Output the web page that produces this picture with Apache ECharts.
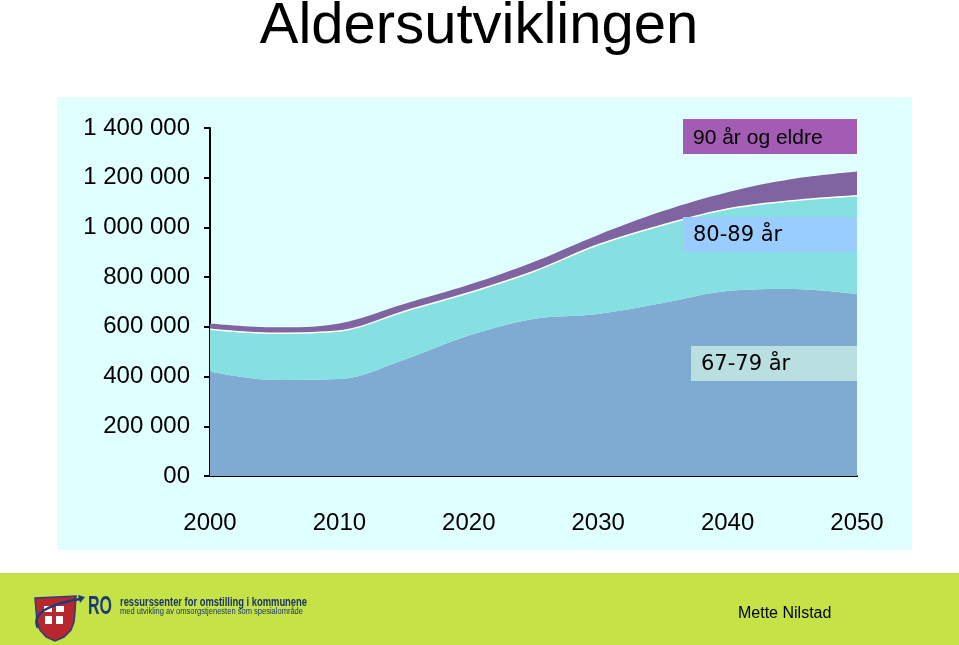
<!DOCTYPE html>
<html>
<head>
<meta charset="utf-8">
<script src="https://cdn.jsdelivr.net/npm/echarts@6/dist/echarts.min.js"></script>
<style>
html,body{margin:0;padding:0;background:#ffffff;}
#chart{width:959px;height:645px;}
</style>
</head>
<body>
<div id="chart"></div>
<script>
// ---- data ----
const years = ['2000', '2005', '2010', '2015', '2020', '2025', '2030', '2035', '2040', '2045', '2050'];
const age67to79 = [420000, 386000, 390000, 468000, 565000, 632000, 652000, 696000, 744000, 752000, 732000];
const age80to89 = [170000, 188000, 193000, 194000, 172000, 191000, 278000, 314000, 330000, 355000, 395000];
const age90plus = [24000, 24000, 31000, 30000, 32000, 38000, 40000, 56000, 68000, 88000, 98000];
const seriesNames = ['67-79 år', '80-89 år', '90 år og eldre'];
const yTickLabels = ['00', '200 000', '400 000', '600 000', '800 000', '1 000 000', '1 200 000', '1 400 000'];
const titleText = 'Aldersutviklingen';
const authorText = 'Mette Nilstad';
const logoLine1 = 'ressurssenter for omstilling i kommunene';
const logoLine2 = 'med utvikling av omsorgstjenesten som spesialområde';

const FONT = '"Liberation Sans", Arial, sans-serif';
const FONT_V = '"DejaVu Sans", Verdana, sans-serif';

const ctx = document.createElement('canvas').getContext('2d');
function fitScale(text, font, width) {
  ctx.font = font;
  const w = ctx.measureText(text).width;
  return w > 0 ? width / w : 1;
}

const chart = echarts.init(document.getElementById('chart'), null, {renderer: 'canvas'});

const fRO = 'bold 26px "Liberation Sans", Arial, sans-serif';
const fL1 = 'bold 12px "Liberation Sans", Arial, sans-serif';
const fL2 = '9px "Liberation Sans", Arial, sans-serif';
const s1 = fitScale('RO', fRO, 24);
const s2 = fitScale(logoLine1, fL1, 187);
const s3 = fitScale(logoLine2, fL2, 183);

const option = {
  backgroundColor: '#ffffff',
  animation: false,
  grid: {left: 210, right: 102, top: 128, bottom: 169, containLabel: false},
  xAxis: {
    type: 'category', data: years, boundaryGap: false,
    axisLine: {show: true, lineStyle: {color: '#000', width: 2}},
    axisTick: {show: false},
    splitLine: {show: false},
    axisLabel: {margin: 35, fontSize: 24, color: '#000', fontFamily: FONT, interval: 1}
  },
  yAxis: {
    type: 'value', min: 0, max: 1400000, interval: 200000,
    axisLine: {show: true, lineStyle: {color: '#000', width: 2}},
    axisTick: {show: true, inside: false, length: 6, lineStyle: {color: '#000', width: 2}},
    splitLine: {show: false},
    axisLabel: {margin: 20, fontSize: 24, color: '#000', fontFamily: FONT,
      formatter: v => yTickLabels[Math.round(v / 200000)]}
  },
  series: [
    {name: seriesNames[0], type: 'line', stack: 'total', data: age67to79, smooth: 0.35,
      showSymbol: false, symbol: 'none',
      lineStyle: {width: 0, color: '#7FABD3'}, areaStyle: {color: '#7FABD3', opacity: 1}},
    {name: seriesNames[1], type: 'line', stack: 'total', data: age80to89, smooth: 0.35,
      showSymbol: false, symbol: 'none', z: 3,
      lineStyle: {width: 1.5, color: '#ffffff'}, areaStyle: {color: '#86E0E2', opacity: 1}},
    {name: seriesNames[2], type: 'line', stack: 'total', data: age90plus, smooth: 0.35,
      showSymbol: false, symbol: 'none',
      lineStyle: {width: 0, color: '#8063A1'}, areaStyle: {color: '#8063A1', opacity: 1}}
  ],
  graphic: [
    {type: 'rect', z: -10, silent: true, shape: {x: 57, y: 97, width: 855, height: 453}, style: {fill: '#E0FFFF'}},
    {type: 'rect', z: -10, silent: true, shape: {x: 0, y: 573, width: 959, height: 72}, style: {fill: '#C5E347'}},
    {type: 'text', z: 10, x: 479, y: 27, style: {text: titleText, font: 'normal 58px ' + FONT, fill: '#000',
      textAlign: 'center', textVerticalAlign: 'middle'}},
    {type: 'rect', z: 10, shape: {x: 683, y: 119, width: 174, height: 35}, style: {fill: '#A35CB3'}},
    {type: 'text', z: 11, x: 693, y: 138, style: {text: seriesNames[2], font: '21px ' + FONT, fill: '#000',
      textAlign: 'left', textVerticalAlign: 'middle'}},
    {type: 'rect', z: 10, shape: {x: 683, y: 217, width: 174, height: 35}, style: {fill: '#99CCFF'}},
    {type: 'text', z: 11, x: 693, y: 236, style: {text: seriesNames[1], font: '21px ' + FONT_V, fill: '#000',
      textAlign: 'left', textVerticalAlign: 'middle'}},
    {type: 'rect', z: 10, shape: {x: 691, y: 346, width: 166, height: 35}, style: {fill: '#B9DFE1'}},
    {type: 'text', z: 11, x: 701, y: 365, style: {text: seriesNames[0], font: '21px ' + FONT_V, fill: '#000',
      textAlign: 'left', textVerticalAlign: 'middle'}},
    {type: 'text', z: 10, x: 738, y: 614, style: {text: authorText, font: '16px ' + FONT, fill: '#000',
      textAlign: 'left', textVerticalAlign: 'middle'}},
    {type: 'polygon', z: 10, shape: {points: [[35,598],[76,596],[75,612],[74,622],[71,630],[64,637],[55,641],[46,637],[40,630],[37,622]]},
      style: {fill: '#B8262E', stroke: '#2A3F7E', lineWidth: 1.5}},
    {type: 'rect', z: 11, shape: {x: 44, y: 606, width: 8, height: 6}, style: {fill: '#fff'}},
    {type: 'rect', z: 11, shape: {x: 56, y: 606, width: 8, height: 6}, style: {fill: '#fff'}},
    {type: 'rect', z: 11, shape: {x: 45, y: 616, width: 7, height: 8}, style: {fill: '#fff'}},
    {type: 'rect', z: 11, shape: {x: 56, y: 616, width: 7, height: 8}, style: {fill: '#fff'}},
    {type: 'bezierCurve', z: 12, shape: {x1: 38, y1: 628, cpx1: 28, cpy1: 608, x2: 80, y2: 599},
      style: {fill: null, stroke: '#1F3B78', lineWidth: 2.5}},
    {type: 'polygon', z: 12, shape: {points: [[78,595],[85,597],[80,603]]}, style: {fill: '#1F3B78'}},
    {type: 'text', z: 10, x: 88, y: 607, scaleX: s1, originX: 0, originY: 0,
      style: {text: 'RO', font: fRO, fill: '#1B3C78', textAlign: 'left', textVerticalAlign: 'middle'}},
    {type: 'text', z: 10, x: 120, y: 603, scaleX: s2, originX: 0, originY: 0,
      style: {text: logoLine1, font: fL1, fill: '#1A3266', textAlign: 'left', textVerticalAlign: 'middle'}},
    {type: 'text', z: 10, x: 120, y: 612, scaleX: s3, originX: 0, originY: 0,
      style: {text: logoLine2, font: fL2, fill: '#1A3266', textAlign: 'left', textVerticalAlign: 'middle'}}
  ]
};
chart.setOption(option);
</script>
</body>
</html>
